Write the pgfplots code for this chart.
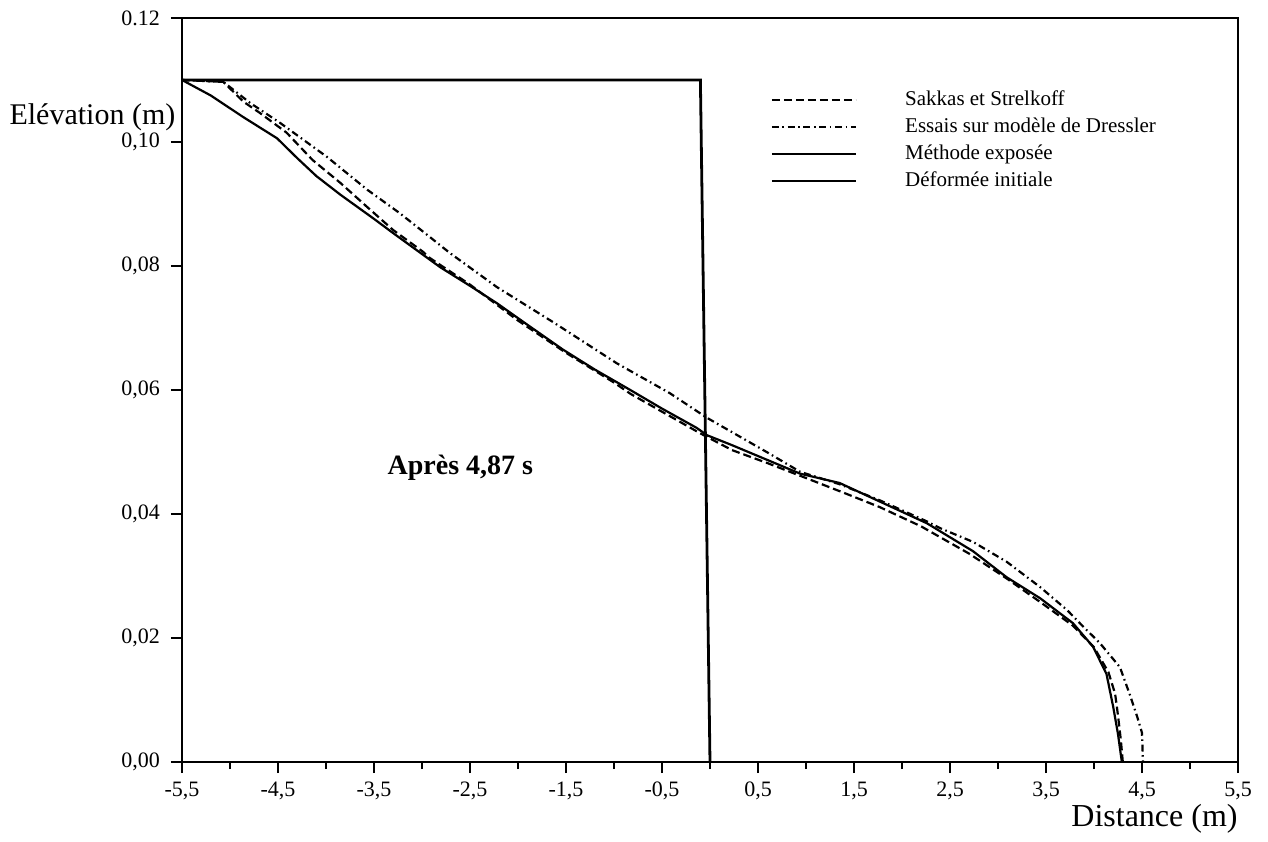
\documentclass[border=0pt]{standalone}
\usepackage{pgfplots}
\pgfplotsset{compat=1.18}
\usepackage{fontspec}
\setmainfont{Liberation Serif}

\begin{document}
\begin{tikzpicture}
\useasboundingbox (-91pt,-39.5pt) rectangle (543pt,381pt);
\begin{axis}[
  at={(0,0)}, anchor=south west,
  scale only axis, width=528pt, height=372pt,
  xmin=-5.5, xmax=5.5, ymin=0, ymax=0.12,
  axis line style={line width=1.3pt},
  xtick={-5.5,-4.5,-3.5,-2.5,-1.5,-0.5,0.5,1.5,2.5,3.5,4.5,5.5},
  xticklabels={{-5,5},{-4,5},{-3,5},{-2,5},{-1,5},{-0,5},{0,5},{1,5},{2,5},{3,5},{4,5},{5,5}},
  minor xtick={-5,-4,-3,-2,-1,0,1,2,3,4,5},
  ytick={0,0.02,0.04,0.06,0.08,0.1,0.12},
  yticklabels={{0,00},{0,02},{0,04},{0,06},{0,08},{0,10},{0.12}},
  tick align=outside, xtick pos=left, ytick pos=left,
  major tick length=5.5pt, minor tick length=3.5pt,
  tick style={line width=0.8pt, black},
  ticklabel style={font=\fontsize{11}{13}\selectfont},
  xticklabel style={yshift=-1pt},
  yticklabel style={xshift=-2pt},
  xlabel={Distance (m)},
  ylabel={Elévation (m)},
  xlabel style={at={(axis description cs:1,-0.076)}, anchor=east, inner sep=0pt, font=\fontsize{16}{19}\selectfont},
  ylabel style={at={(axis description cs:-0.0848,0.866)}, rotate=-90, anchor=center, inner sep=0pt, font=\fontsize{15}{18}\selectfont},
  clip=false,
  legend style={draw=none, fill=none, at={(axis description cs:0.5568,0.905)}, anchor=north west, inner sep=0pt,
    font=\fontsize{10.5}{12}\selectfont, row sep=2.5pt,
    nodes={inner sep=1pt, text height=7pt, text depth=2pt}},
  legend cell align=left,
  legend image code/.code={\draw[#1] (0pt,0pt) -- (42pt,0pt);},
]
\addplot[black, line width=1.1pt, dash pattern=on 4pt off 2pt] coordinates {
(-5.5,0.110) (-5.07,0.1097) (-4.86,0.1065) (-4.69,0.1047) (-4.41,0.1015) (-4.14,0.0971) (-3.85,0.0934) (-3.57,0.0895) (-3.30,0.0858) (-2.99,0.0823) (-2.92,0.0813) (-2.5,0.0770) (-2.0,0.0712) (-1.5,0.0660) (-1.0,0.0612) (-0.83,0.0594) (-0.5,0.0565) (-0.1,0.0530) (0.23,0.0503) (0.6,0.0482) (1.0,0.0458) (1.43,0.0432) (1.77,0.0411) (2.2,0.0380) (2.7,0.0336) (3.1,0.0295) (3.44,0.0258) (3.78,0.0220) (4.0,0.0185) (4.15,0.0145) (4.22,0.0110) (4.25,0.0075) (4.28,0.0035) (4.3,0)
};
\addlegendentry{\hspace*{23pt}Sakkas et Strelkoff}
\addplot[black, line width=1.1pt, dash pattern=on 3.5pt off 1.8pt on 0.8pt off 1.8pt] coordinates {
(-5.5,0.110) (-5.07,0.1097) (-4.79,0.1063) (-4.48,0.1031) (-3.99,0.0976) (-3.57,0.0923) (-3.23,0.0885) (-2.92,0.0847) (-2.71,0.0821) (-2.22,0.0766) (-1.64,0.0710) (-0.97,0.0643) (-0.42,0.0595) (-0.03,0.0555) (0.59,0.0500) (0.94,0.0468) (1.35,0.0448) (1.77,0.0422) (2.26,0.0388) (2.4,0.0377) (2.74,0.0355) (3.09,0.0323) (3.44,0.0282) (3.72,0.0245) (3.89,0.0218) (4.06,0.0192) (4.27,0.0153) (4.37,0.0110) (4.45,0.0073) (4.5,0.0047) (4.51,0)
};
\addlegendentry{\hspace*{23pt}Essais sur modèle de Dressler}
\addplot[black, line width=1.1pt] coordinates {
(-5.5,0.110) (-5.2,0.1075) (-4.86,0.1040) (-4.51,0.1006) (-4.30,0.0974) (-4.1,0.0945) (-3.85,0.0915) (-3.5,0.0876) (-3.30,0.0853) (-2.81,0.0798) (-2.5,0.0768) (-2.22,0.0740) (-1.9,0.0705) (-1.53,0.0665) (-1.2,0.0633) (-0.83,0.0600) (-0.5,0.0570) (-0.14,0.0539) (-0.03,0.0527) (0.23,0.0511) (0.6,0.0487) (0.94,0.0465) (1.35,0.0450) (1.77,0.0420) (2.26,0.0385) (2.74,0.0340) (3.09,0.0298) (3.44,0.0264) (3.78,0.0224) (3.99,0.0186) (4.13,0.0142) (4.2,0.0089) (4.25,0.0045) (4.29,0)
};
\addlegendentry{\hspace*{23pt}Méthode exposée}
\addplot[black, line width=1.4pt] coordinates {(-5.5,0.11) (-0.1,0.11) (0.0,0)};
\addlegendentry{\hspace*{23pt}Déformée initiale}
\node[font=\bfseries\fontsize{14}{17}\selectfont] at (axis cs:-2.6,0.0474) {Après 4,87 s};
\end{axis}
\end{tikzpicture}
\end{document}
